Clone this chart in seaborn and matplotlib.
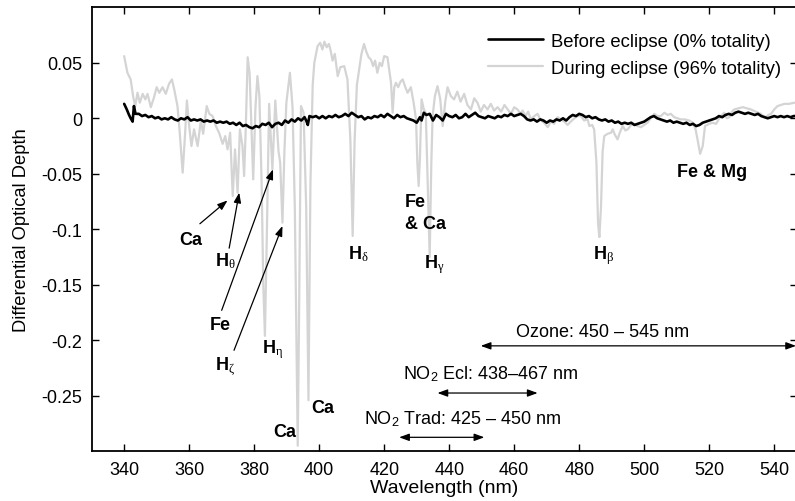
import matplotlib
matplotlib.use("Agg")
import matplotlib.pyplot as plt
import pandas as pd
import seaborn as sns

# wavelength (nm) / differential optical depth
wl_during = [
    340.0, 341.0, 342.0, 342.8, 343.4, 344.1, 344.8, 345.7, 346.5, 347.2,
    348.2, 349.2, 350.0, 350.8, 351.8, 352.8, 353.8, 354.7, 355.4, 356.4,
    357.1, 358.0, 358.7, 359.3, 360.0, 360.7, 361.5, 362.6, 363.6, 364.3,
    365.4, 366.2, 367.2, 368.2, 369.2, 370.3, 371.1, 371.8, 372.6, 373.4,
    374.1, 374.9, 375.6, 376.4, 376.9, 377.4, 378.0, 378.6, 379.7, 380.4,
    381.0, 381.6, 382.3, 382.8, 383.3, 383.8, 384.6, 385.6, 386.5, 387.5,
    388.0, 388.7, 389.3, 389.9, 391.0, 391.8, 392.5, 393.0, 393.4, 393.8,
    394.4, 395.2, 396.0, 396.7, 397.3, 398.0, 398.5, 399.5, 400.3, 401.0,
    401.6, 402.3, 403.0, 403.6, 404.1, 404.8, 405.7, 406.5, 407.7, 408.7,
    409.6, 410.3, 410.9, 411.6, 412.3, 413.0, 413.8, 414.5, 415.2, 415.9,
    416.6, 417.2, 417.9, 418.6, 419.3, 420.0, 421.0, 421.7, 422.1, 422.6,
    423.1, 423.6, 424.3, 425.0, 425.7, 426.5, 427.2, 428.2, 429.0, 429.8,
    430.2, 430.6, 431.0, 431.5, 432.2, 432.8, 433.4, 434.0, 434.5, 434.9,
    435.6, 436.4, 437.2, 438.0, 438.8, 439.5, 440.5, 441.5, 442.5, 443.5,
    444.6, 445.6, 446.7, 447.7, 448.7, 449.7, 450.7, 451.8, 452.8, 453.8,
    454.9, 456.0, 457.0, 458.0, 459.0, 460.0, 461.0, 462.0, 462.6, 463.5,
    464.3, 465.1, 466.2, 467.2, 468.2, 469.2, 470.3, 471.3, 472.3, 473.3,
    474.4, 475.4, 476.4, 477.4, 478.5, 479.5, 480.5, 481.5, 482.6, 483.1,
    484.0, 484.6, 485.3, 485.8, 486.2, 486.7, 487.2, 487.7, 488.7, 489.8,
    490.3, 491.0, 491.8, 492.6, 493.4, 494.2, 494.9, 496.0, 496.9, 498.0,
    499.0, 500.0, 501.0, 502.0, 503.1, 504.1, 505.1, 506.2, 507.2, 508.2,
    509.2, 510.3, 511.3, 512.5, 513.8, 515.0, 515.8, 516.4, 517.2, 518.0,
    518.7, 520.0, 521.0, 522.1, 523.3, 524.6, 525.4, 526.2, 527.0, 527.7,
    529.0, 530.3, 531.5, 532.8, 534.3, 535.9, 536.6, 537.4, 538.2, 539.0,
    540.0, 541.0, 542.0, 543.1, 544.5, 546.2, 547.0,
]
od_during = [
    0.056, 0.041, 0.035, 0.019, 0.011, 0.023, 0.014, 0.022, 0.017, 0.022,
    0.010, 0.019, 0.028, 0.023, 0.028, 0.022, 0.031, 0.035, 0.026, 0.011,
    -0.013, -0.049, -0.016, 0.016, -0.007, -0.025, -0.010, -0.025, -0.002, -0.014,
    0.011, 0.004, 0.002, -0.007, -0.013, -0.023, -0.016, -0.028, -0.013, -0.070,
    -0.028, -0.067, -0.010, -0.025, -0.052, -0.010, 0.055, 0.040, -0.055, 0.010,
    0.038, 0.020, -0.060, -0.150, -0.196, -0.120, 0.013, -0.046, 0.016, -0.030,
    -0.040, -0.094, -0.030, 0.014, 0.041, 0.010, -0.080, -0.200, -0.295, -0.180,
    0.011, 0.005, -0.080, -0.254, -0.060, 0.030, 0.050, 0.065, 0.068, 0.062,
    0.069, 0.064, 0.067, 0.060, 0.052, 0.058, 0.038, 0.046, 0.047, 0.035,
    -0.020, -0.106, -0.020, 0.030, 0.044, 0.058, 0.067, 0.060, 0.055, 0.053,
    0.047, 0.052, 0.041, 0.050, 0.047, 0.056, 0.055, 0.040, 0.032, 0.005,
    0.028, 0.032, 0.028, 0.033, 0.035, 0.028, 0.023, 0.028, 0.015, -0.001,
    -0.040, -0.061, -0.035, 0.017, 0.008, 0.005, -0.060, -0.125, -0.040, 0.002,
    0.020, 0.029, 0.018, -0.007, 0.015, 0.028, 0.020, 0.017, 0.024, 0.015,
    0.022, 0.012, 0.008, 0.018, 0.014, 0.006, 0.012, 0.008, 0.013, 0.007,
    0.010, 0.006, 0.012, 0.008, 0.004, 0.010, 0.008, 0.004, 0.007, 0.002,
    0.006, -0.001, 0.002, 0.004, -0.002, -0.004, -0.008, -0.003, -0.005, 0.001,
    -0.001, -0.003, -0.006, -0.003, 0.000, 0.002, 0.002, -0.002, -0.001, -0.007,
    -0.006, -0.010, -0.040, -0.095, -0.107, -0.080, -0.030, -0.016, -0.014, -0.013,
    -0.010, -0.015, -0.019, -0.012, -0.007, -0.011, -0.010, -0.006, -0.005, -0.007,
    -0.008, -0.006, -0.004, 0.000, 0.004, 0.002, 0.002, 0.005, 0.003, 0.004,
    0.001, 0.000, -0.001, -0.001, -0.002, -0.004, -0.010, -0.019, -0.032, -0.025,
    -0.007, -0.005, -0.004, -0.005, 0.001, 0.005, 0.000, 0.001, 0.006, 0.008,
    0.009, 0.010, 0.009, 0.008, 0.006, 0.004, 0.002, 0.001, 0.003, 0.004,
    0.008, 0.011, 0.012, 0.013, 0.013, 0.014, 0.014,
]

wl_before = [
    340.0, 340.8, 341.5, 342.0, 342.6, 343.0, 343.5, 344.5, 345.5, 346.5,
    347.5, 348.5, 349.5, 350.5, 351.5, 352.5, 353.5, 354.5, 355.5, 356.5,
    357.5, 358.5, 359.5, 360.5, 361.5, 362.5, 363.5, 364.5, 365.5, 366.5,
    367.5, 368.5, 369.5, 370.5, 371.5, 372.5, 373.5, 374.5, 375.5, 376.5,
    377.5, 378.5, 379.5, 380.5, 381.5, 382.5, 383.5, 384.5, 385.5, 386.5,
    387.5, 388.5, 389.5, 390.5, 391.5, 392.5, 393.5, 394.5, 395.5, 396.0,
    396.5, 397.0, 398.0, 399.0, 400.0, 401.0, 402.0, 403.0, 404.0, 405.0,
    406.0, 407.0, 408.0, 409.0, 410.0, 411.0, 412.0, 413.0, 414.0, 415.0,
    416.0, 417.0, 418.0, 419.0, 420.0, 421.0, 422.0, 423.0, 424.0, 425.0,
    426.0, 427.0, 428.0, 429.0, 430.0, 431.0, 431.5, 432.2, 433.0, 434.0,
    435.0, 436.0, 437.0, 438.0, 439.0, 440.0, 441.0, 442.0, 443.0, 444.0,
    445.0, 446.0, 447.0, 448.0, 449.0, 450.0, 451.0, 452.0, 453.0, 454.0,
    455.0, 456.0, 457.0, 458.0, 459.0, 460.0, 461.0, 462.0, 463.0, 464.0,
    465.0, 466.0, 467.0, 468.0, 469.0, 470.0, 471.0, 472.0, 473.0, 474.0,
    475.0, 476.0, 477.0, 478.0, 479.0, 480.0, 481.0, 482.0, 483.0, 484.0,
    485.0, 486.0, 487.0, 488.0, 489.0, 490.0, 491.0, 492.0, 493.0, 494.0,
    495.0, 496.0, 497.0, 498.0, 499.0, 500.0, 501.0, 502.0, 503.0, 504.0,
    505.0, 506.0, 507.0, 508.0, 509.0, 510.0, 511.0, 512.0, 513.0, 514.0,
    515.0, 516.0, 517.0, 518.0, 519.0, 520.0, 521.0, 522.0, 523.0, 524.0,
    525.0, 526.0, 527.0, 528.0, 529.0, 530.0, 531.0, 532.0, 533.0, 534.0,
    535.0, 536.0, 537.0, 538.0, 539.0, 540.0, 541.0, 542.0, 543.0, 544.0,
    545.0, 546.0, 547.0,
]
od_before = [
    0.013, 0.008, 0.003, 0.000, -0.003, 0.011, 0.004, 0.004, 0.002, 0.003,
    0.001, 0.002, 0.000, 0.001, -0.001, 0.000, -0.001, 0.001, -0.001, -0.002,
    0.000, -0.001, 0.001, -0.002, -0.001, -0.002, -0.001, -0.003, -0.002, -0.003,
    -0.002, -0.004, -0.003, -0.004, -0.003, -0.005, -0.004, -0.006, -0.004, -0.007,
    -0.006, -0.008, -0.009, -0.007, -0.008, -0.005, -0.006, -0.004, -0.008, -0.005,
    -0.004, -0.006, -0.002, -0.004, -0.001, -0.003, 0.000, -0.002, 0.001, -0.002,
    -0.006, 0.002, 0.001, 0.002, 0.000, 0.002, 0.000, 0.002, 0.001, 0.003,
    0.001, 0.002, 0.004, 0.002, 0.005, 0.003, 0.001, 0.002, -0.001, 0.001,
    0.000, 0.002, 0.001, 0.003, 0.001, 0.004, 0.002, 0.000, 0.003, 0.001,
    0.002, 0.000, -0.001, -0.002, -0.004, 0.001, -0.002, 0.005, 0.003, 0.004,
    -0.002, 0.003, 0.001, -0.002, 0.004, 0.002, 0.001, 0.003, 0.000, 0.001,
    0.004, 0.001, 0.003, 0.005, 0.002, 0.001, 0.000, 0.002, 0.001, 0.000,
    0.002, 0.001, 0.003, 0.002, 0.004, 0.002, 0.003, 0.004, 0.002, -0.001,
    -0.002, -0.001, -0.003, -0.001, -0.002, -0.004, -0.002, -0.003, -0.001, -0.002,
    0.000, -0.002, 0.001, 0.003, 0.002, 0.004, 0.003, 0.001, 0.002, 0.000,
    0.001, -0.001, -0.002, -0.001, -0.003, -0.002, -0.004, -0.003, -0.005, -0.004,
    -0.005, -0.004, -0.006, -0.005, -0.004, -0.003, -0.001, 0.001, 0.002, 0.000,
    -0.001, -0.002, -0.003, -0.002, -0.004, -0.003, -0.004, -0.005, -0.004, -0.006,
    -0.005, -0.007, -0.006, -0.004, -0.003, -0.002, -0.001, 0.000, 0.002, 0.001,
    0.003, 0.004, 0.003, 0.005, 0.006, 0.005, 0.004, 0.005, 0.004, 0.003,
    0.004, 0.002, 0.001, 0.000, 0.001, 0.002, 0.001, 0.002, 0.001, 0.002,
    0.001, 0.002, 0.002,
]

series_names = ["Before eclipse (0% totality)", "During eclipse (96% totality)"]
xticks = [340, 360, 380, 400, 420, 440, 460, 480, 500, 520, 540]
yticks = [-0.25, -0.2, -0.15, -0.1, -0.05, 0, 0.05]
ytick_labels = ["-0.25", "-0.2", "-0.15", "-0.1", "-0.05", "0", "0.05"]

sns.set_style("ticks")
plt.rcParams["font.family"] = ["Liberation Sans", "DejaVu Sans"]
plt.rcParams["text.color"] = "black"
plt.rcParams["axes.labelcolor"] = "black"
plt.rcParams["xtick.color"] = "black"
plt.rcParams["ytick.color"] = "black"
plt.rcParams["axes.edgecolor"] = "black"
# Greek subscripts in a serif face (like the original), NO2 subscript in sans
plt.rcParams["mathtext.fontset"] = "custom"
plt.rcParams["mathtext.rm"] = "Liberation Serif"
plt.rcParams["mathtext.it"] = "Liberation Serif:italic"
plt.rcParams["mathtext.bf"] = "Liberation Sans:bold"
plt.rcParams["mathtext.sf"] = "Liberation Sans"

df_before = pd.DataFrame({"wl": wl_before, "od": od_before})
df_during = pd.DataFrame({"wl": wl_during, "od": od_during})

fig = plt.figure(figsize=(7.95, 5.02), dpi=100)
ax = fig.add_axes([0.1153, 0.099, 0.8872, 0.8845])

sns.lineplot(data=df_before, x="wl", y="od", ax=ax, color="black", lw=1.9,
             label=series_names[0], zorder=3)
sns.lineplot(data=df_during, x="wl", y="od", ax=ax, color="#d4d4d4", lw=1.6,
             label=series_names[1], zorder=2)

ax.set_xlim(330, 547)
ax.set_ylim(-0.3, 0.1)
ax.set_xticks(xticks)
ax.set_yticks(yticks)
ax.set_yticklabels(ytick_labels)
ax.tick_params(direction="in", length=5, width=1, labelsize=13,
               top=True, right=True, pad=7)
for s in ax.spines.values():
    s.set_linewidth(1.3)
ax.set_xlabel("Wavelength (nm)", fontsize=14, labelpad=0.5)
ax.set_ylabel("Differential Optical Depth", fontsize=13.2, labelpad=8)

ax.legend(loc="upper left", bbox_to_anchor=(0.546, 0.968), frameon=False,
          fontsize=13.3, handlelength=3.0, handletextpad=0.4,
          labelspacing=0.55, borderaxespad=0.2)

bold = dict(fontsize=13, fontweight="bold", color="black")
arrow = dict(arrowstyle="-|>,head_length=0.6,head_width=0.22", lw=0.9,
             color="black", shrinkA=0, shrinkB=0)
two_way = dict(arrowstyle="<|-|>,head_length=0.6,head_width=0.22", lw=0.9,
               color="black", shrinkA=0, shrinkB=0)

# line labels
ax.text(360.6, -0.113, "Ca", ha="center", va="baseline", **bold)
ax.annotate("", xy=(371.8, -0.074), xytext=(363.3, -0.095), arrowprops=arrow)
ax.text(367.9, -0.132, r"$\mathbf{H}_{\mathrm{\theta}}$", ha="left", va="baseline", fontsize=13)
ax.annotate("", xy=(375.4, -0.067), xytext=(372.3, -0.117), arrowprops=arrow)
ax.text(366.4, -0.190, "Fe", ha="left", va="baseline", **bold)
ax.annotate("", xy=(385.8, -0.046), xytext=(370.0, -0.173), arrowprops=arrow)
ax.text(367.9, -0.2265, r"$\mathbf{H}_{\mathrm{\zeta}}$", ha="left", va="baseline", fontsize=13)
ax.annotate("", xy=(388.7, -0.097), xytext=(373.8, -0.209), arrowprops=arrow)
ax.text(382.3, -0.211, r"$\mathbf{H}_{\mathrm{\eta}}$", ha="left", va="baseline", fontsize=13)
ax.text(397.7, -0.265, "Ca", ha="left", va="baseline", **bold)
ax.text(386.0, -0.286, "Ca", ha="left", va="baseline", **bold)
ax.text(408.9, -0.126, r"$\mathbf{H}_{\mathrm{\delta}}$", ha="left", va="baseline", fontsize=13)
ax.text(426.4, -0.0787, "Fe", ha="left", va="baseline", **bold)
ax.text(426.4, -0.099, "& Ca", ha="left", va="baseline", **bold)
ax.text(432.2, -0.134, r"$\mathbf{H}_{\mathrm{\gamma}}$", ha="left", va="baseline", fontsize=13)
ax.text(484.1, -0.126, r"$\mathbf{H}_{\mathrm{\beta}}$", ha="left", va="baseline", fontsize=13)
ax.text(510.0, -0.0517, "Fe & Mg", ha="left", va="baseline", **bold)

# fitting windows
ax.text(460.6, -0.196, "Ozone: 450 \u2013 545 nm", ha="left", va="baseline", fontsize=13)
ax.annotate("", xy=(546.7, -0.205), xytext=(449.7, -0.205), arrowprops=two_way)
ax.text(425.7, -0.234, "NO$_{\\mathsf{2}}$ Ecl: 438\u2013467 nm",
        ha="left", va="baseline", fontsize=13)
ax.annotate("", xy=(467.2, -0.2475), xytext=(436.4, -0.2475), arrowprops=two_way)
ax.text(413.9, -0.275, "NO$_{\\mathsf{2}}$ Trad: 425 \u2013 450 nm",
        ha="left", va="baseline", fontsize=13)
ax.annotate("", xy=(450.8, -0.2874), xytext=(424.6, -0.2874), arrowprops=two_way)

fig.savefig("out.png", dpi=100)
